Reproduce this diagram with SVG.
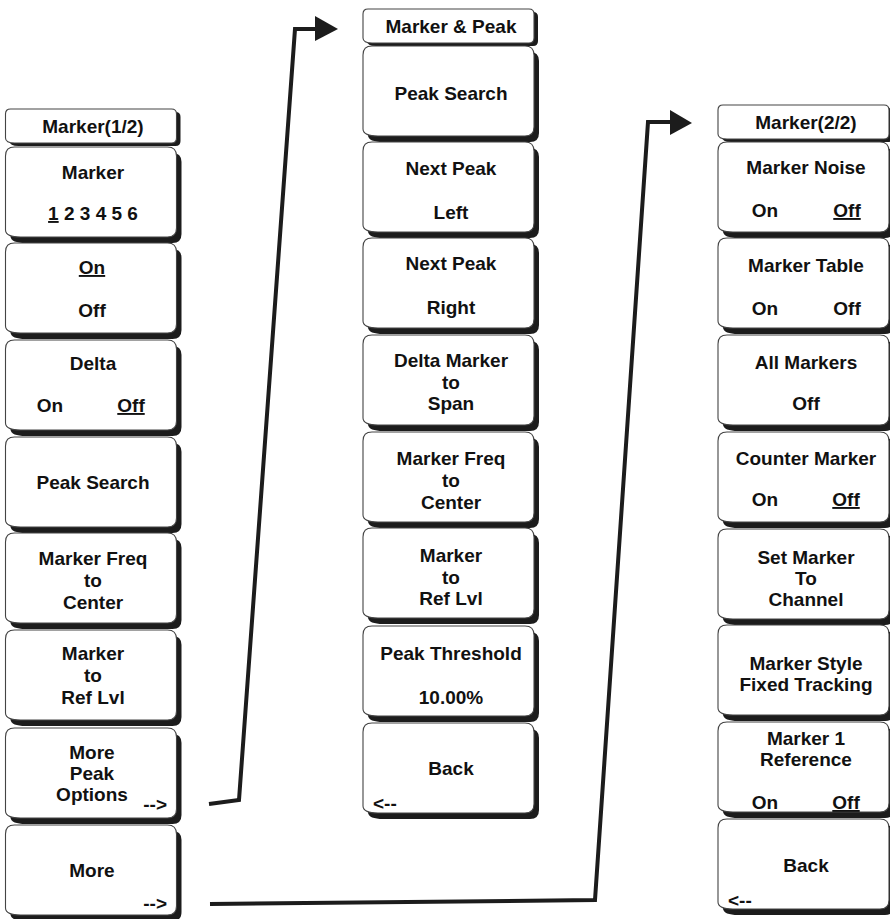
<svg xmlns="http://www.w3.org/2000/svg" xmlns:xlink="http://www.w3.org/1999/xlink" width="890" height="919" viewBox="0 0 890 919">
<defs>
<style>
.sh{fill:#1c1c1c;}
.bx{fill:#fff;stroke:#444;stroke-width:1.1;}
text{font-family:"Liberation Sans",Arial,sans-serif;font-weight:bold;font-size:19px;fill:#111;text-anchor:middle;}
.u{text-decoration:underline;}
.conn{fill:none;stroke:#1c1c1c;stroke-width:4;stroke-linejoin:miter;}
.ah{fill:#1c1c1c;}
</style>
<path id="btn" d="M0,9 Q0,0 9,0 H162 Q171,0 171,9 V81 Q171,90 162,90 H15 C6,90 0,88 0,83 Z"/>
<path id="ttl" d="M0,5 Q0,0 5,0 H166 Q171,0 171,5 V29 Q171,34 166,34 H9 Q0,34 0,29 Z"/>
</defs>

<!-- Left column: Marker(1/2) -->
<g id="left-title"><use href="#ttl" class="sh" x="9.5" y="112"/><use href="#ttl" class="bx" x="5.5" y="109"/><text x="93" y="133">Marker(1/2)</text></g>
<g id="left-marker"><use href="#btn" class="sh" x="10.5" y="153"/><use href="#btn" class="bx" x="5.5" y="147"/><text x="93" y="179">Marker</text><text x="93" y="220"><tspan class="u">1</tspan> 2 3 4 5 6</text></g>
<g id="left-onoff"><use href="#btn" class="sh" x="10.5" y="249"/><use href="#btn" class="bx" x="5.5" y="243"/><text x="92" y="274" class="u">On</text><text x="92" y="317">Off</text></g>
<g id="left-delta"><use href="#btn" class="sh" x="10.5" y="346"/><use href="#btn" class="bx" x="5.5" y="340"/><text x="93" y="370">Delta</text><text x="50" y="412">On</text><text x="131" y="412" class="u">Off</text></g>
<g id="left-peaksearch"><use href="#btn" class="sh" x="10.5" y="443"/><use href="#btn" class="bx" x="5.5" y="437"/><text x="93" y="489">Peak Search</text></g>
<g id="left-freq"><use href="#btn" class="sh" x="10.5" y="539"/><use href="#btn" class="bx" x="5.5" y="533"/><text x="93" y="565">Marker Freq</text><text x="93" y="587">to</text><text x="93" y="609">Center</text></g>
<g id="left-reflvl"><use href="#btn" class="sh" x="10.5" y="636"/><use href="#btn" class="bx" x="5.5" y="630"/><text x="93" y="660">Marker</text><text x="93" y="682">to</text><text x="93" y="704">Ref Lvl</text></g>
<g id="left-morepeak"><use href="#btn" class="sh" x="10.5" y="734"/><use href="#btn" class="bx" x="5.5" y="728"/><text x="92" y="759">More</text><text x="92" y="780">Peak</text><text x="92" y="801">Options</text><text x="167" y="811" style="text-anchor:end">--&gt;</text></g>
<g id="left-more"><use href="#btn" class="sh" x="10.5" y="831"/><use href="#btn" class="bx" x="5.5" y="825"/><text x="92" y="877">More</text><text x="167" y="910" style="text-anchor:end">--&gt;</text></g>

<!-- Middle column: Marker & Peak -->
<g id="mid-title"><use href="#ttl" class="sh" x="367" y="12"/><use href="#ttl" class="bx" x="363" y="9"/><text x="451" y="33">Marker &amp; Peak</text></g>
<g id="mid-peaksearch"><use href="#btn" class="sh" x="368" y="52"/><use href="#btn" class="bx" x="363" y="46"/><text x="451" y="100">Peak Search</text></g>
<g id="mid-nextleft"><use href="#btn" class="sh" x="368" y="148"/><use href="#btn" class="bx" x="363" y="142"/><text x="451" y="175">Next Peak</text><text x="451" y="219">Left</text></g>
<g id="mid-nextright"><use href="#btn" class="sh" x="368" y="244"/><use href="#btn" class="bx" x="363" y="238"/><text x="451" y="270">Next Peak</text><text x="451" y="314">Right</text></g>
<g id="mid-deltaspan"><use href="#btn" class="sh" x="368" y="341"/><use href="#btn" class="bx" x="363" y="335"/><text x="451" y="367">Delta Marker</text><text x="451" y="389">to</text><text x="451" y="410">Span</text></g>
<g id="mid-freq"><use href="#btn" class="sh" x="368" y="438"/><use href="#btn" class="bx" x="363" y="432"/><text x="451" y="465">Marker Freq</text><text x="451" y="487">to</text><text x="451" y="509">Center</text></g>
<g id="mid-reflvl"><use href="#btn" class="sh" x="368" y="534"/><use href="#btn" class="bx" x="363" y="528"/><text x="451" y="562">Marker</text><text x="451" y="584">to</text><text x="451" y="605">Ref Lvl</text></g>
<g id="mid-threshold"><use href="#btn" class="sh" x="368" y="632"/><use href="#btn" class="bx" x="363" y="626"/><text x="451" y="660">Peak Threshold</text><text x="451" y="704">10.00%</text></g>
<g id="mid-back"><use href="#btn" class="sh" x="368" y="729"/><use href="#btn" class="bx" x="363" y="723"/><text x="451" y="775">Back</text><text x="373" y="810" style="text-anchor:start">&lt;--</text></g>

<!-- Right column: Marker(2/2) -->
<g id="right-title"><use href="#ttl" class="sh" x="722" y="108"/><use href="#ttl" class="bx" x="718" y="105"/><text x="806" y="129">Marker(2/2)</text></g>
<g id="right-noise"><use href="#btn" class="sh" x="723" y="148"/><use href="#btn" class="bx" x="718" y="142"/><text x="806" y="174">Marker Noise</text><text x="765" y="217">On</text><text x="847" y="217" class="u">Off</text></g>
<g id="right-table"><use href="#btn" class="sh" x="723" y="244"/><use href="#btn" class="bx" x="718" y="238"/><text x="806" y="272">Marker Table</text><text x="765" y="315">On</text><text x="847" y="315">Off</text></g>
<g id="right-all"><use href="#btn" class="sh" x="723" y="341"/><use href="#btn" class="bx" x="718" y="335"/><text x="806" y="369">All Markers</text><text x="806" y="410">Off</text></g>
<g id="right-counter"><use href="#btn" class="sh" x="723" y="438"/><use href="#btn" class="bx" x="718" y="432"/><text x="806" y="465">Counter Marker</text><text x="765" y="506">On</text><text x="846" y="506" class="u">Off</text></g>
<g id="right-setchan"><use href="#btn" class="sh" x="723" y="535"/><use href="#btn" class="bx" x="718" y="529"/><text x="806" y="564">Set Marker</text><text x="806" y="585">To</text><text x="806" y="606">Channel</text></g>
<g id="right-style"><use href="#btn" class="sh" x="723" y="631"/><use href="#btn" class="bx" x="718" y="625"/><text x="806" y="670">Marker Style</text><text x="806" y="691">Fixed Tracking</text></g>
<g id="right-ref"><use href="#btn" class="sh" x="723" y="728"/><use href="#btn" class="bx" x="718" y="722"/><text x="806" y="745">Marker 1</text><text x="806" y="766">Reference</text><text x="765" y="809">On</text><text x="846" y="809" class="u">Off</text></g>
<g id="right-back"><use href="#btn" class="sh" x="723" y="825"/><use href="#btn" class="bx" x="718" y="819"/><text x="806" y="872">Back</text><text x="728" y="907" style="text-anchor:start">&lt;--</text></g>

<!-- Connectors -->
<g id="connectors">
<polyline class="conn" points="209,804 239,800 295,29 316,29"/>
<polygon class="ah" points="315,16 338,29 315,41"/>
<polyline class="conn" points="210,904 595,900 648,122 671,122"/>
<polygon class="ah" points="670,110 692,123 670,135"/>
</g>
</svg>
